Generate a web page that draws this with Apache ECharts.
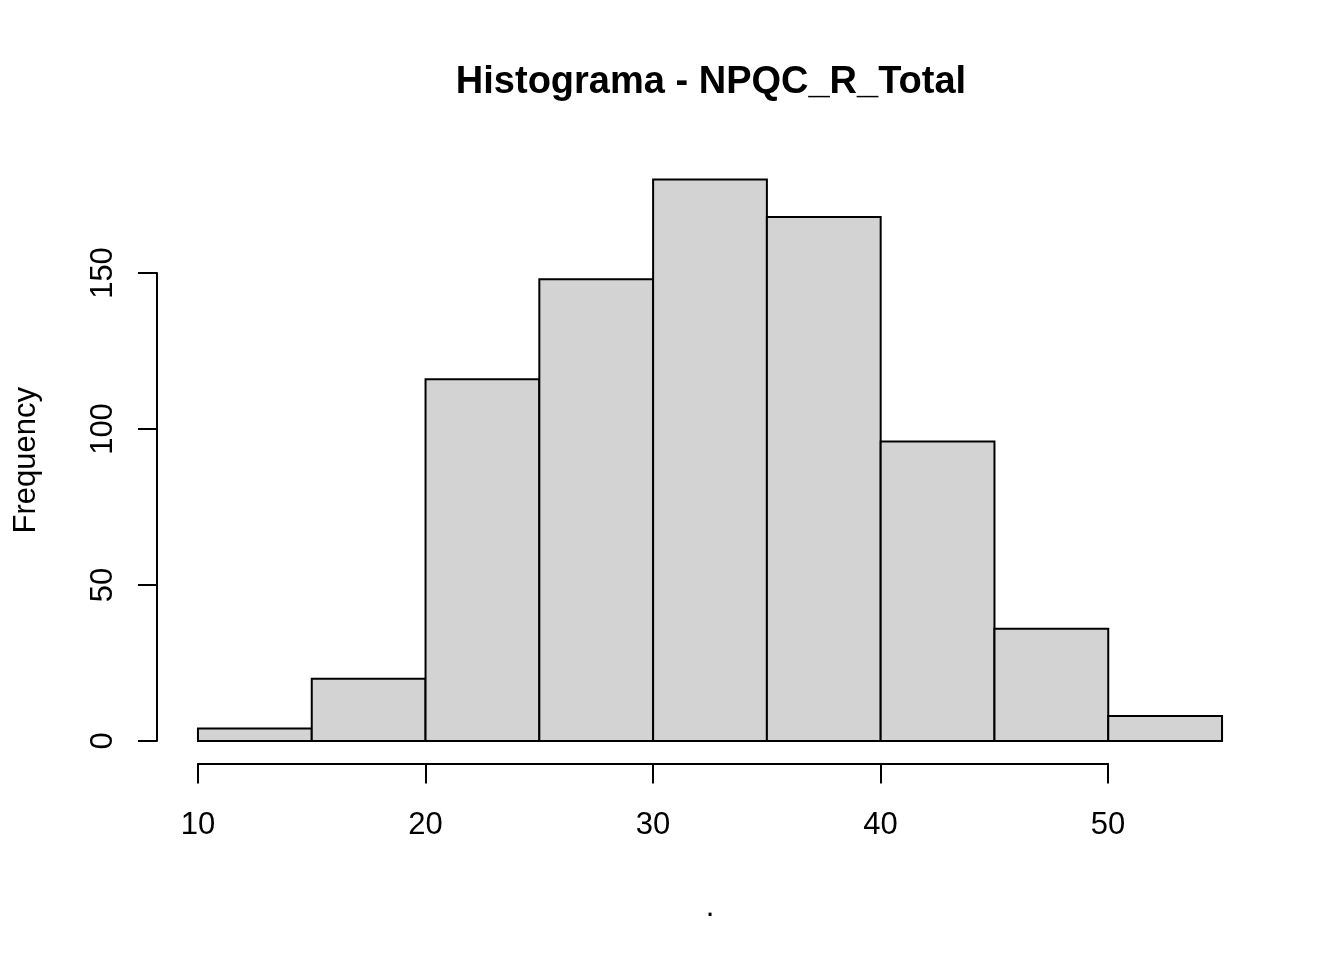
<!DOCTYPE html>
<html>
<head>
<meta charset="utf-8">
<script src="https://cdn.jsdelivr.net/npm/echarts@6/dist/echarts.min.js"></script>
<style>html,body{margin:0;padding:0;background:#fff}#c{width:1344px;height:960px}</style>
</head>
<body>
<div id="c"></div>
<script>
const breaks = [10, 15, 20, 25, 30, 35, 40, 45, 50, 55];
const counts = [4, 20, 116, 148, 180, 168, 96, 36, 8];
const xTicks = [10, 20, 30, 40, 50];
const yTicks = [0, 50, 100, 150];
const titleText = 'Histograma - NPQC_R_Total';
const xLabel = '.';
const yLabel = 'Frequency';

const FONT = "'Liberation Sans', Arial, sans-serif";
const barData = counts.map((c, i) => [breaks[i], breaks[i + 1], c]);

// R-style 4% range extension for the plot region
const xr = breaks[breaks.length - 1] - breaks[0];
const yr = Math.max(...counts);
const chart = echarts.init(document.getElementById('c'), null, {renderer: 'canvas'});
chart.setOption({
  animation: false,
  backgroundColor: '#ffffff',
  title: {
    text: titleText,
    left: 706, top: 59, textAlign: 'center',
    textStyle: {fontFamily: FONT, fontWeight: 'bold', fontSize: 38, color: '#000'}
  },
  grid: [
    {left: 157, right: 81, top: 157, bottom: 196.5, outerBoundsMode: 'none', containLabel: false},
    {left: 198, right: 236, top: 273, bottom: 219, outerBoundsMode: 'none', containLabel: false}
  ],
  xAxis: [
    {
      gridIndex: 0, type: 'value',
      min: breaks[0] - 0.04 * xr, max: breaks[breaks.length - 1] + 0.04 * xr,
      axisLine: {show: false, onZero: false}, axisTick: {show: false}, axisLabel: {show: false}, splitLine: {show: false},
      name: xLabel, nameLocation: 'middle', nameGap: 128,
      nameTextStyle: {fontFamily: FONT, fontSize: 31, color: '#000'}
    },
    {
      gridIndex: 1, type: 'value', min: xTicks[0], max: xTicks[xTicks.length - 1], interval: 10,
      position: 'bottom', offset: 22.5,
      axisLine: {show: true, onZero: false, lineStyle: {color: '#000', width: 2}},
      axisTick: {show: true, length: 20, lineStyle: {color: '#000', width: 2}},
      axisLabel: {show: true, margin: 46, fontFamily: FONT, fontSize: 31, color: '#000', showMinLabel: true, showMaxLabel: true},
      splitLine: {show: false}
    }
  ],
  yAxis: [
    {
      gridIndex: 0, type: 'value',
      min: -0.04 * yr, max: yr * 1.04,
      axisLine: {show: false, onZero: false}, axisTick: {show: false}, axisLabel: {show: false}, splitLine: {show: false},
      name: yLabel, nameLocation: 'middle', nameGap: 115, nameRotate: 90,
      nameTextStyle: {fontFamily: FONT, fontSize: 31, color: '#000'}
    },
    {
      gridIndex: 1, type: 'value', min: yTicks[0], max: yTicks[yTicks.length - 1], interval: 50,
      position: 'left', offset: 41,
      axisLine: {show: true, onZero: false, lineStyle: {color: '#000', width: 2}},
      axisTick: {show: true, length: 19, lineStyle: {color: '#000', width: 2}},
      axisLabel: {show: true, rotate: 90, margin: 38, fontFamily: FONT, fontSize: 31, color: '#000', showMinLabel: true, showMaxLabel: true},
      splitLine: {show: false}
    }
  ],
  series: [{
    type: 'custom',
    xAxisIndex: 0, yAxisIndex: 0,
    data: barData,
    renderItem: function (params, api) {
      const p0 = api.coord([api.value(0), 0]);
      const p1 = api.coord([api.value(1), api.value(2)]);
      return {
        type: 'rect',
        shape: {x: p0[0], y: p1[1], width: p1[0] - p0[0], height: p0[1] - p1[1]},
        style: {fill: '#d3d3d3', stroke: '#000', lineWidth: 2}
      };
    }
  }]
});
</script>
</body>
</html>
